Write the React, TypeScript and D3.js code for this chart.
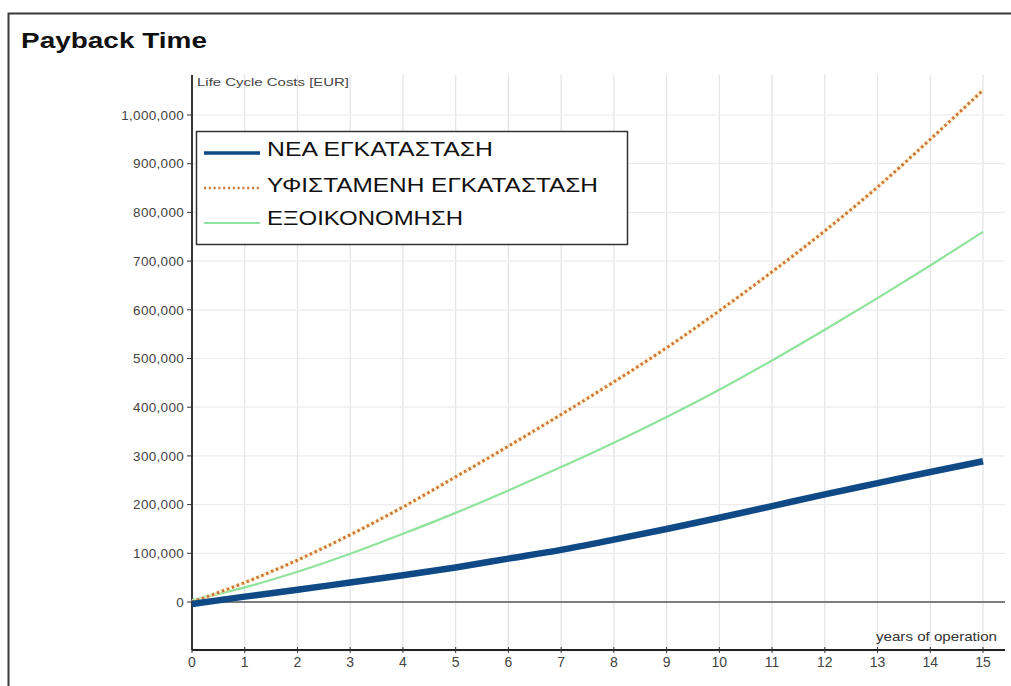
import React from "react";
import * as d3 from "d3";

const years = [0, 1, 2, 3, 4, 5, 6, 7, 8, 9, 10, 11, 12, 13, 14, 15];
const newInstallation = [-4000, 11000, 25000, 40000, 55000, 71000, 89000, 107000, 128000, 150000, 173000, 197000, 221000, 244000, 267000, 289000];
const existingInstallation = [0, 40000, 86000, 138000, 195000, 257000, 320000, 385000, 452000, 522000, 598000, 678000, 762000, 852000, 950000, 1051000];
const savings = [4000, 30000, 62000, 99000, 140000, 183000, 229000, 277000, 327000, 380000, 436000, 496000, 559000, 624000, 691000, 760000];

const yTicks = [0, 100000, 200000, 300000, 400000, 500000, 600000, 700000, 800000, 900000, 1000000];
const xTicks = [0, 1, 2, 3, 4, 5, 6, 7, 8, 9, 10, 11, 12, 13, 14, 15];

const seriesNames = ["ΝΕΑ ΕΓΚΑΤΑΣΤΑΣΗ", "ΥΦΙΣΤΑΜΕΝΗ ΕΓΚΑΤΑΣΤΑΣΗ", "ΕΞΟΙΚΟΝΟΜΗΣΗ"];

export default function App() {
  const x = d3.scaleLinear().domain([0, 15]).range([192, 983]);
  const y = d3.scaleLinear().domain([0, 1000000]).range([602, 115]);
  const left = 192;
  const right = 1005;
  const top = 75;
  const bottom = 650;

  const line = (vals: number[]) =>
    d3
      .line<number>()
      .x((_, i) => x(years[i]))
      .y((v) => y(v))
      .curve(d3.curveMonotoneX)(vals) as string;

  const fmt = d3.format(",");
  const font = "Arial, 'Liberation Sans', Helvetica, sans-serif";

  return (
    <svg
      width={1011}
      height={686}
      style={{ position: "absolute", left: 0, top: 0, background: "#fff" }}
      fontFamily={font}
    >
      <rect x={0} y={0} width={1011} height={686} fill="#fff" />
      <rect x={8.5} y={13.5} width={1010} height={700} fill="none" stroke="#3a3a3a" strokeWidth={2} />
      <text x={21} y={48} fontSize={22} fontWeight="bold" fill="#111" textLength={186} lengthAdjust="spacingAndGlyphs">
        Payback Time
      </text>

      {/* grid */}
      {xTicks.map((t) => (
        <line key={"gx" + t} x1={x(t)} x2={x(t)} y1={top} y2={bottom} stroke="#e3e3e8" strokeWidth={1.2} />
      ))}
      {[-100000, ...yTicks].map((t) => (
        <line key={"gy" + t} x1={left} x2={right} y1={y(t)} y2={y(t)} stroke="#ececf0" strokeWidth={1.2} />
      ))}

      {/* zero line */}
      <line x1={left} x2={right} y1={y(0)} y2={y(0)} stroke="#555" strokeWidth={1.6} />

      {/* axes */}
      <line x1={left} x2={left} y1={top} y2={bottom} stroke="#222" strokeWidth={1.8} />
      <line x1={left} x2={right} y1={bottom} y2={bottom} stroke="#222" strokeWidth={2} />

      {yTicks.map((t) => (
        <g key={"yt" + t}>
          <line x1={left - 5} x2={left} y1={y(t)} y2={y(t)} stroke="#333" strokeWidth={1} />
          <text x={184} y={y(t)} dy="0.35em" textAnchor="end" fontSize={13.5} fill="#444" letterSpacing={0.3}>
            {fmt(t)}
          </text>
        </g>
      ))}
      {xTicks.map((t) => (
        <g key={"xt" + t}>
          <line x1={x(t)} x2={x(t)} y1={bottom - 3} y2={bottom + 3} stroke="#333" strokeWidth={1} />
          <text x={x(t)} y={662} dy="0.35em" textAnchor="middle" fontSize={14} fill="#444">
            {t}
          </text>
        </g>
      ))}

      <text x={197} y={82} dy="0.35em" fontSize={11} fill="#444" textLength={152} lengthAdjust="spacingAndGlyphs">
        Life Cycle Costs [EUR]
      </text>
      <text x={876} y={636} dy="0.35em" fontSize={13} fill="#333" textLength={121} lengthAdjust="spacingAndGlyphs">
        years of operation
      </text>

      {/* series */}
      <path d={line(savings)} fill="none" stroke="#8fe39a" strokeWidth={2.2} />
      <path d={line(existingInstallation)} fill="none" stroke="#ffe7b8" strokeWidth={4} opacity={0.6} />
      <path d={line(existingInstallation)} fill="none" stroke="#c9763a" strokeWidth={3} strokeDasharray="2.5 2.8" />
      <path d={line(newInstallation)} fill="none" stroke="#0f4a86" strokeWidth={6.5} strokeLinecap="butt" />

      {/* legend */}
      <rect x={196.5} y={131.5} width={431} height={113} fill="#fff" stroke="#333" strokeWidth={1.5} />
      <line x1={204} x2={260} y1={153} y2={153} stroke="#0f4a86" strokeWidth={3.5} />
      <line x1={204} x2={260} y1={188} y2={188} stroke="#c9763a" strokeWidth={2.5} strokeDasharray="2 2.8" />
      <line x1={204} x2={260} y1={223} y2={223} stroke="#8fe39a" strokeWidth={2.2} />
      <text x={267} y={149} dy="0.35em" fontSize={21} fill="#111" textLength={226} lengthAdjust="spacingAndGlyphs">
        {seriesNames[0]}
      </text>
      <text x={267} y={185} dy="0.35em" fontSize={21} fill="#111" textLength={331} lengthAdjust="spacingAndGlyphs">
        {seriesNames[1]}
      </text>
      <text x={267} y={218} dy="0.35em" fontSize={21} fill="#111" textLength={196} lengthAdjust="spacingAndGlyphs">
        {seriesNames[2]}
      </text>
    </svg>
  );
}
